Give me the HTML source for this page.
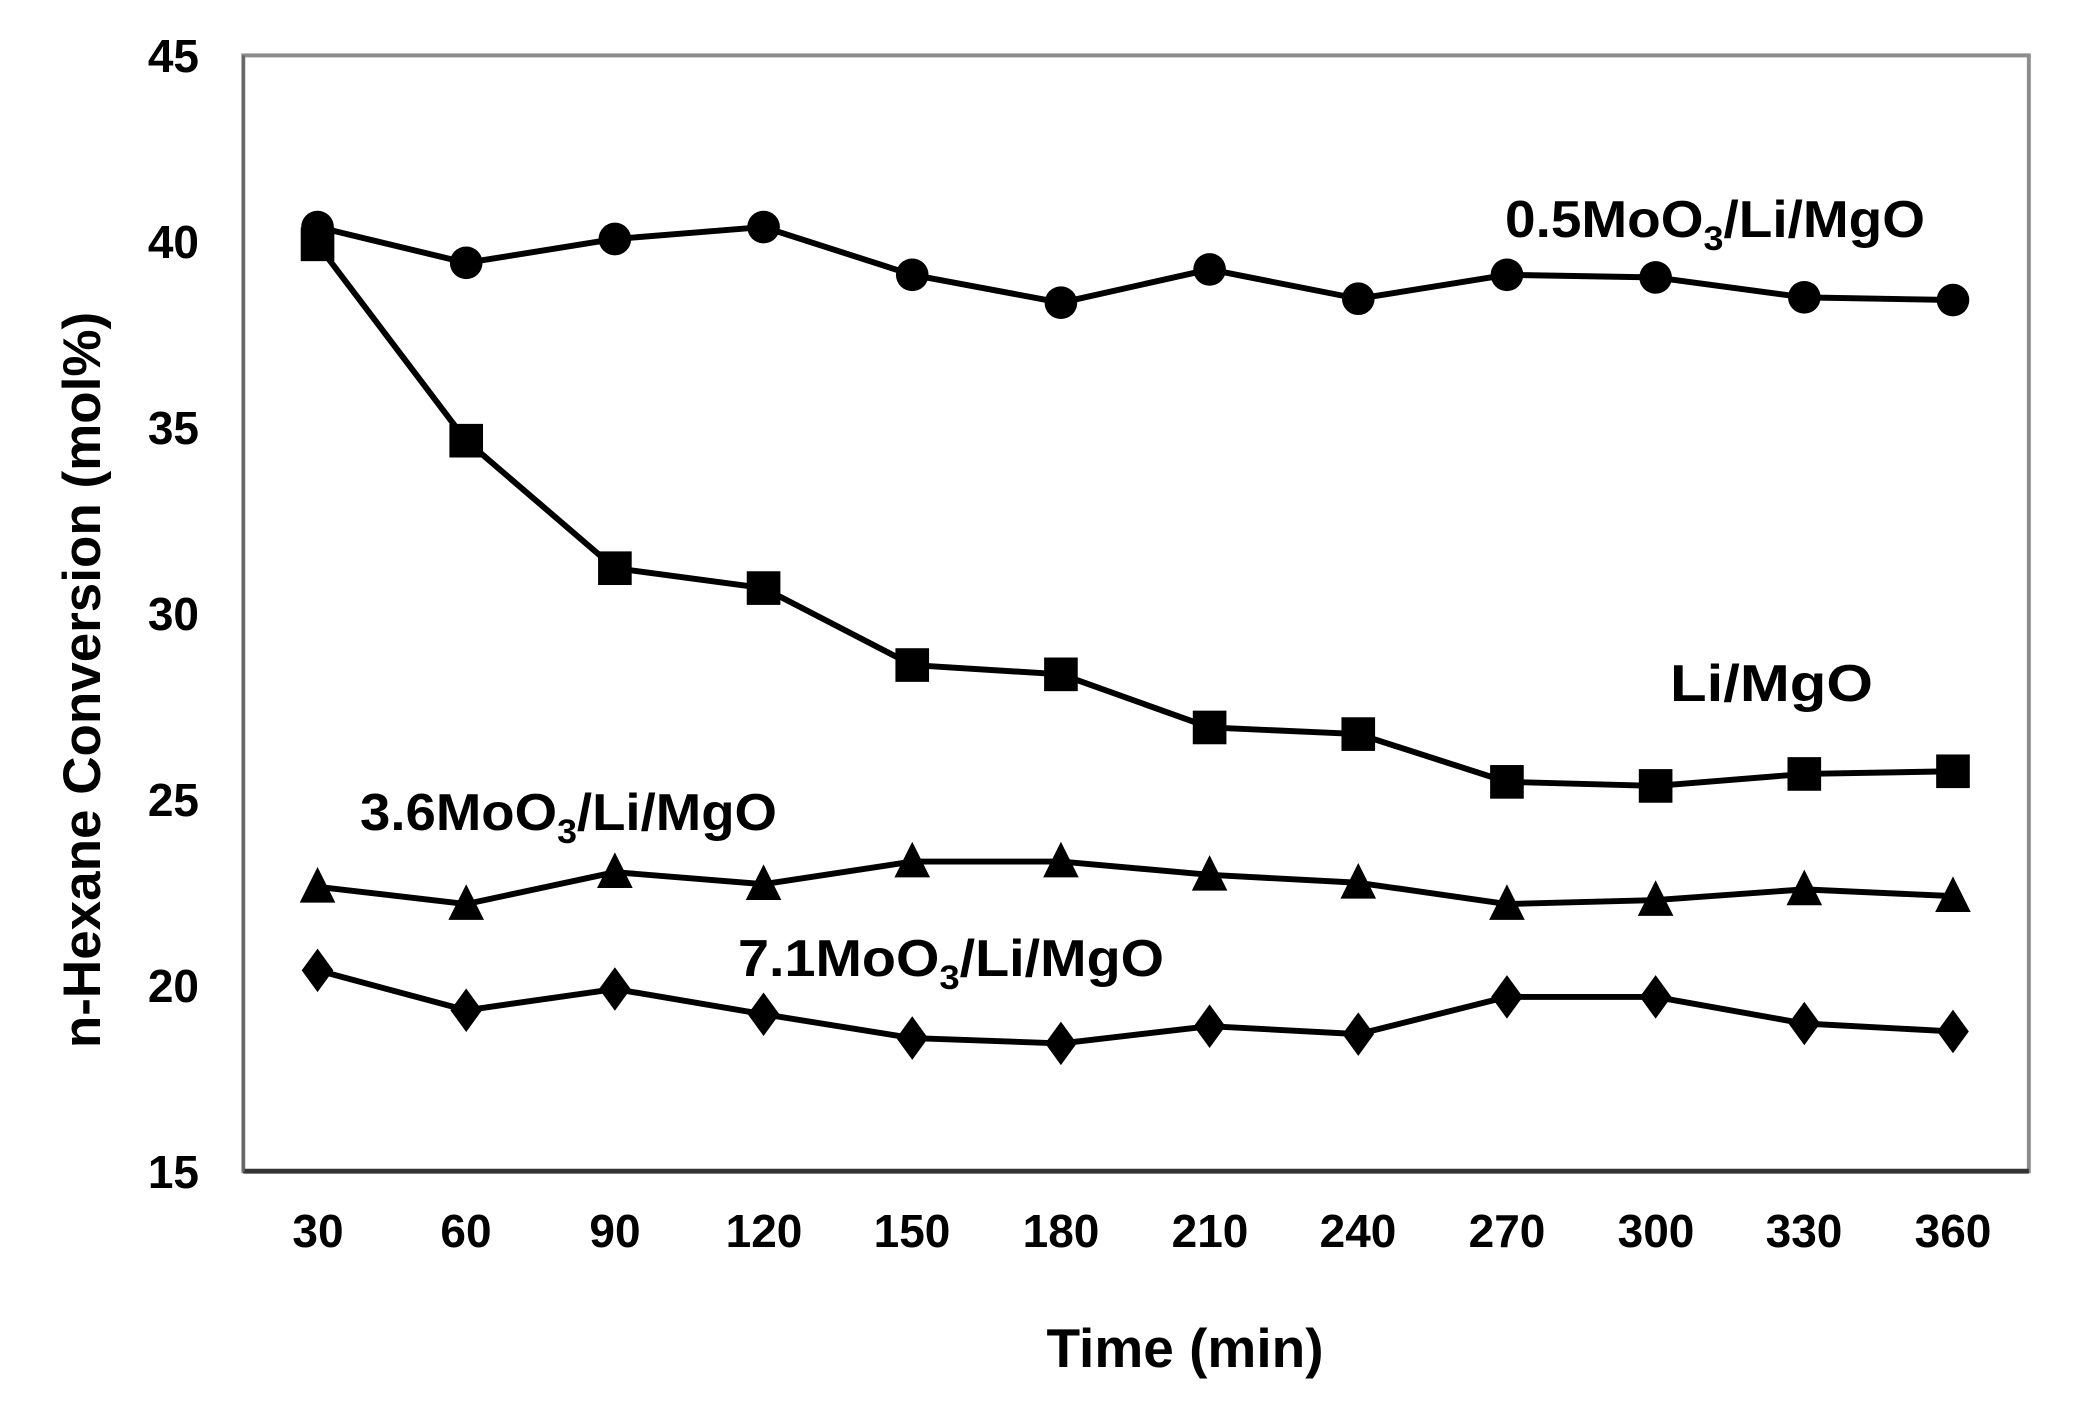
<!DOCTYPE html>
<html><head><meta charset="utf-8"><style>
html,body{margin:0;padding:0;background:#fff;}
svg{display:block;}
text{font-family:"Liberation Sans",Arial,sans-serif;font-weight:bold;fill:#000;}
</style></head><body>
<svg width="2083" height="1401" viewBox="0 0 2083 1401" xmlns="http://www.w3.org/2000/svg">
<defs>
<circle id="c" r="16.5" fill="#000"/>
<rect id="s" x="-17" y="-17" width="34" height="34" fill="#000"/>
<path id="t" d="M0,-20 L18,16 L-18,16 Z" fill="#000"/>
<path id="d" d="M0,-22 L16,0 L0,22 L-16,0 Z" fill="#000"/>
</defs>
<g transform="scale(0.9892)">
<rect x="246" y="56" width="1805" height="1128" fill="none" stroke="#8c8c8c" stroke-width="4"/>
<line x1="246" y1="1184" x2="2051" y2="1184" stroke="#333" stroke-width="5"/>
<line x1="246" y1="56" x2="246" y2="1184" stroke="#666" stroke-width="3"/>
<g fill="none" stroke="#000" stroke-width="6" stroke-linejoin="round">
<polyline points="321,229.5 471.3,265.7 621.6,241.6 771.9,229.5 922.2,277.8 1072.5,306 1222.8,272.4 1373.1,302 1523.4,277.8 1673.7,280.5 1824,300.6 1974.3,303.3"/>
<polyline points="321,247 471.3,445.5 621.6,574.4 771.9,594.5 922.2,672.3 1072.5,681.7 1222.8,735.4 1373.1,742.1 1523.4,790.4 1673.7,794.5 1824,782.4 1974.3,779.7"/>
<polyline points="321,896.5 471.3,913.9 621.6,881.7 771.9,893.8 922.2,871 1072.5,871 1222.8,884.4 1373.1,892.4 1523.4,913.9 1673.7,909.9 1824,899.1 1974.3,905.9"/>
<polyline points="321,981 471.3,1021.3 621.6,999.8 771.9,1025.3 922.2,1049.4 1072.5,1054.8 1222.8,1037.4 1373.1,1045.4 1523.4,1007.8 1673.7,1007.8 1824,1034.7 1974.3,1042.7"/>
</g>
<use href="#s" x="321" y="247"/><use href="#s" x="471.3" y="445.5"/><use href="#s" x="621.6" y="574.4"/><use href="#s" x="771.9" y="594.5"/><use href="#s" x="922.2" y="672.3"/><use href="#s" x="1072.5" y="681.7"/><use href="#s" x="1222.8" y="735.4"/><use href="#s" x="1373.1" y="742.1"/><use href="#s" x="1523.4" y="790.4"/><use href="#s" x="1673.7" y="794.5"/><use href="#s" x="1824" y="782.4"/><use href="#s" x="1974.3" y="779.7"/>
<use href="#c" x="321" y="229.5"/><use href="#c" x="471.3" y="265.7"/><use href="#c" x="621.6" y="241.6"/><use href="#c" x="771.9" y="229.5"/><use href="#c" x="922.2" y="277.8"/><use href="#c" x="1072.5" y="306"/><use href="#c" x="1222.8" y="272.4"/><use href="#c" x="1373.1" y="302"/><use href="#c" x="1523.4" y="277.8"/><use href="#c" x="1673.7" y="280.5"/><use href="#c" x="1824" y="300.6"/><use href="#c" x="1974.3" y="303.3"/>
<use href="#t" x="321" y="896.5"/><use href="#t" x="471.3" y="913.9"/><use href="#t" x="621.6" y="881.7"/><use href="#t" x="771.9" y="893.8"/><use href="#t" x="922.2" y="871"/><use href="#t" x="1072.5" y="871"/><use href="#t" x="1222.8" y="884.4"/><use href="#t" x="1373.1" y="892.4"/><use href="#t" x="1523.4" y="913.9"/><use href="#t" x="1673.7" y="909.9"/><use href="#t" x="1824" y="899.1"/><use href="#t" x="1974.3" y="905.9"/>
<use href="#d" x="321" y="981"/><use href="#d" x="471.3" y="1021.3"/><use href="#d" x="621.6" y="999.8"/><use href="#d" x="771.9" y="1025.3"/><use href="#d" x="922.2" y="1049.4"/><use href="#d" x="1072.5" y="1054.8"/><use href="#d" x="1222.8" y="1037.4"/><use href="#d" x="1373.1" y="1045.4"/><use href="#d" x="1523.4" y="1007.8"/><use href="#d" x="1673.7" y="1007.8"/><use href="#d" x="1824" y="1034.7"/><use href="#d" x="1974.3" y="1042.7"/>
</g>
<g font-size="46" text-anchor="end">
<text x="199" y="72">45</text>
<text x="199" y="258">40</text>
<text x="199" y="444">35</text>
<text x="199" y="630">30</text>
<text x="199" y="816">25</text>
<text x="199" y="1002">20</text>
<text x="199" y="1188">15</text>
</g>
<g font-size="46" text-anchor="middle">
<text x="318" y="1247">30</text>
<text x="466" y="1247">60</text>
<text x="615" y="1247">90</text>
<text x="764" y="1247">120</text>
<text x="912" y="1247">150</text>
<text x="1061" y="1247">180</text>
<text x="1210" y="1247">210</text>
<text x="1358" y="1247">240</text>
<text x="1507" y="1247">270</text>
<text x="1656" y="1247">300</text>
<text x="1804" y="1247">330</text>
<text x="1953" y="1247">360</text>
</g>
<text x="1185" y="1367" font-size="55" text-anchor="middle">Time (min)</text>
<text transform="translate(100,680) rotate(-90)" font-size="53" text-anchor="middle">n-Hexane Conversion (mol%)</text>
<g font-size="52">
<text x="1505" y="237" textLength="420" lengthAdjust="spacingAndGlyphs">0.5MoO<tspan font-size="34" dy="13">3</tspan><tspan dy="-13">/Li/MgO</tspan></text>
<text x="1670" y="701" textLength="203" lengthAdjust="spacingAndGlyphs">Li/MgO</text>
<text x="360" y="830" textLength="417" lengthAdjust="spacingAndGlyphs">3.6MoO<tspan font-size="34" dy="13">3</tspan><tspan dy="-13">/Li/MgO</tspan></text>
<text x="738" y="976" textLength="426" lengthAdjust="spacingAndGlyphs">7.1MoO<tspan font-size="34" dy="13">3</tspan><tspan dy="-13">/Li/MgO</tspan></text>
</g>
</svg>
</body></html>
